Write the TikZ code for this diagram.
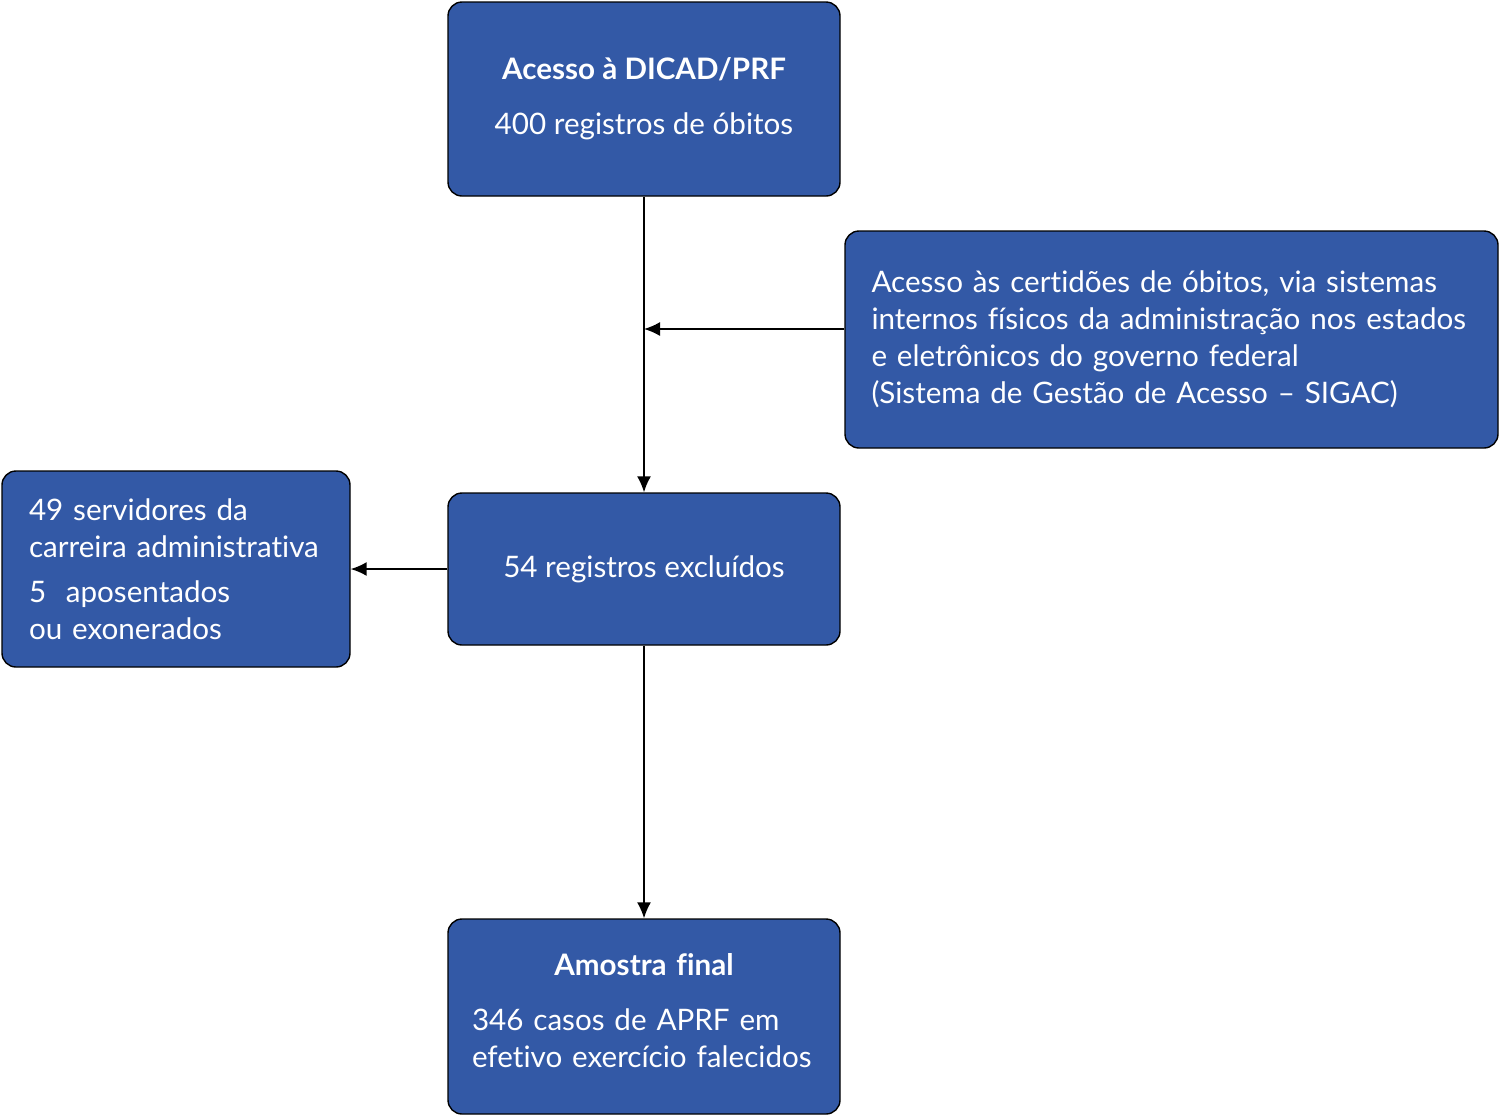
\documentclass[tikz,border=0pt]{standalone}
\usepackage{fontspec}
\setmainfont{Lato}[Ligatures={NoCommon,NoRare,NoContextual}]
\usetikzlibrary{arrows.meta}
\definecolor{boxblue}{RGB}{51,89,166}
\begin{document}
\begin{tikzpicture}[x=0.5pt,y=-0.5pt]
		\tikzstyle{stage}=[draw=black,line width=0.7pt,fill=boxblue,rounded corners=7pt,text=white,inner sep=0pt,
			font=\fontsize{14.8}{18.5}\selectfont]
		\tikzstyle{edge}=[-{Latex[length=8pt,width=7pt]},line width=0.8pt]
		\useasboundingbox (0,0) rectangle (1500,1116);
		
		\node [stage, minimum width=196pt, minimum height=97pt, align=center] (acesso) at (644, 99)
			{\textbf{Acesso à DICAD/PRF}\\[9pt]400 registros de óbitos};
		\node [stage, minimum width=326.5pt, minimum height=108.5pt, text width=300pt, align=left] (certidoes) at (1171.5, 339.5)
			{Acesso às certidões de óbitos, via sistemas\\internos físicos da administração nos estados\\e eletrônicos do governo federal\\(Sistema de Gestão de Acesso – SIGAC)};
		\node [stage, minimum width=196pt, minimum height=76pt, align=center] (excluidos) at (644, 569)
			{54 registros excluídos};
		\node [stage, minimum width=174pt, minimum height=98pt, text width=147pt, align=left] (motivos) at (176, 569)
			{49 servidores da\\carreira administrativa\\[4pt]5~~aposentados\\ou exonerados};
		\node [stage, minimum width=196pt, minimum height=97.5pt, text width=172pt, align=left] (amostra) at (644, 1016.5)
			{\makebox[\linewidth]{\textbf{Amostra final}}\\[9pt]346 casos de APRF em\\efetivo exercício falecidos\\[-12.5pt]\mbox{}};
		
		\coordinate (juncao) at (644, 329);
		\draw[edge] (acesso) -- (excluidos);
		\draw[edge] (certidoes.west |- juncao) -- (juncao);
		\draw[edge] (excluidos) -- (motivos);
		\draw[edge] (excluidos) -- (amostra);
	\end{tikzpicture}
\end{document}
